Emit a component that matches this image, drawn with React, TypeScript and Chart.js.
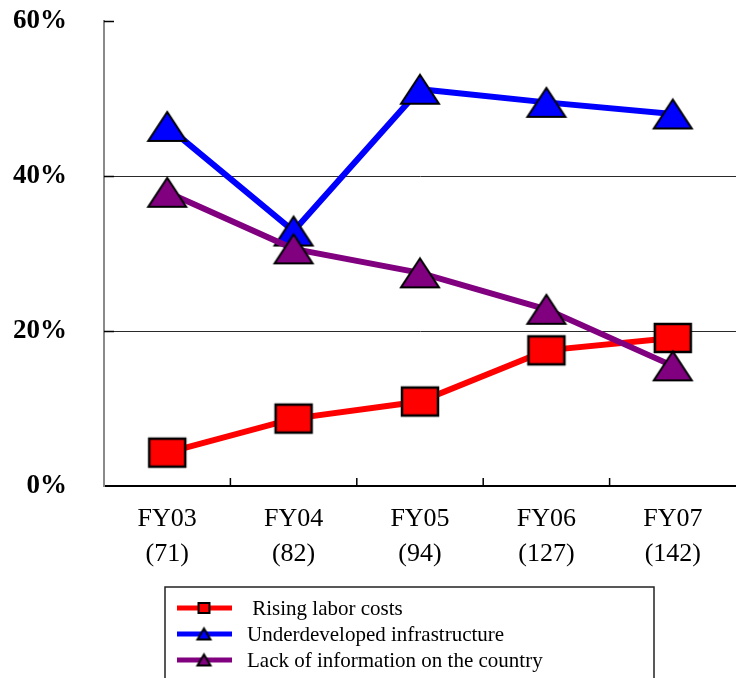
import { useEffect, useRef } from 'react';
import { Chart, registerables } from 'chart.js';

Chart.register(...registerables);

// Survey results by fiscal year (respondent counts in parentheses)
const fiscalYears = ['FY03', 'FY04', 'FY05', 'FY06', 'FY07'];
const respondentCounts = ['(71)', '(82)', '(94)', '(127)', '(142)'];

// Share of respondents citing each problem, in percent
const risingLaborCosts = [4.3, 8.7, 10.9, 17.5, 19.1];
const underdevelopedInfrastructure = [46.4, 32.9, 51.2, 49.5, 48.0];
const lackOfInformation = [37.9, 30.6, 27.5, 22.8, 15.5];

const seriesLabels = [' Rising labor costs', 'Underdeveloped infrastructure', 'Lack of information on the country'];
const yMin = 0;
const yMax = 60;
const yStep = 20;

const SERIF = '"Liberation Serif", "Times New Roman", Times, serif';

type Shape = 'rect' | 'triangle';

function makeMarker(shape: Shape, fill: string, w: number, h: number, lw: number): HTMLCanvasElement {
  const m = 3;
  const c = document.createElement('canvas');
  c.width = w + m * 2;
  c.height = h + m * 2;
  const g = c.getContext('2d')!;
  g.fillStyle = fill;
  g.strokeStyle = '#000';
  g.lineWidth = lw;
  g.lineJoin = 'miter';
  g.beginPath();
  if (shape === 'rect') {
    g.rect(m, m, w, h);
  } else {
    g.moveTo(m + w / 2, m);
    g.lineTo(m + w, m + h);
    g.lineTo(m, m + h);
    g.closePath();
  }
  g.fill();
  g.stroke();
  return c;
}

// Short inward tick marks on both axes
const innerTicks = {
  id: 'innerTicks',
  beforeDatasetsDraw(chart: any) {
    const { ctx, chartArea, scales } = chart;
    const x = scales.x;
    const y = scales.y;
    ctx.save();
    ctx.strokeStyle = '#000';
    ctx.lineWidth = 1.5;
    ctx.beginPath();
    for (let v = yMin + yStep; v <= yMax; v += yStep) {
      const py = Math.round(y.getPixelForValue(v)) + 0.5;
      ctx.moveTo(chartArea.left, py);
      ctx.lineTo(chartArea.left + 10, py);
    }
    for (let i = 0; i < fiscalYears.length - 1; i++) {
      const px = (x.getPixelForValue(i) + x.getPixelForValue(i + 1)) / 2;
      ctx.moveTo(px, chartArea.bottom);
      ctx.lineTo(px, chartArea.bottom - 8);
    }
    ctx.stroke();
    ctx.restore();
  },
};

// Boxed legend below the axis labels: line sample with marker, then the text
const boxedLegend = {
  id: 'boxedLegend',
  afterDraw(chart: any) {
    const { ctx } = chart;
    const left = 165;
    const top = 587;
    const right = 654;
    ctx.save();
    ctx.strokeStyle = '#222';
    ctx.lineWidth = 1.5;
    ctx.strokeRect(left, top, right - left, 200);
    const rowY = [608, 634, 660];
    chart.data.datasets.forEach((ds: any, i: number) => {
      const yy = rowY[i];
      ctx.strokeStyle = ds.borderColor;
      ctx.lineWidth = 5;
      ctx.beginPath();
      ctx.moveTo(177, yy);
      ctx.lineTo(232, yy);
      ctx.stroke();
      const mk = ds.legendMarker as HTMLCanvasElement;
      ctx.drawImage(mk, 204 - mk.width / 2, yy - mk.height / 2);
      ctx.fillStyle = '#000';
      ctx.font = `21px ${SERIF}`;
      ctx.textBaseline = 'middle';
      ctx.textAlign = 'left';
      ctx.fillText(ds.label, 247, yy + 1);
    });
    ctx.restore();
  },
};

export default function App() {
  const canvasRef = useRef<HTMLCanvasElement | null>(null);

  useEffect(() => {
    const canvas = canvasRef.current;
    if (!canvas) return;

    const redRect = makeMarker('rect', '#FF0000', 36, 28, 2.5);
    const blueTri = makeMarker('triangle', '#0000FF', 38, 29, 2);
    const purpleTri = makeMarker('triangle', '#800080', 38, 29, 2);

    const chart = new Chart(canvas, {
      type: 'line',
      data: {
        labels: fiscalYears.map((fy, i) => [fy, respondentCounts[i]]),
        datasets: [
          {
            label: seriesLabels[0],
            data: risingLaborCosts,
            borderColor: '#FF0000',
            backgroundColor: '#FF0000',
            borderWidth: 6,
            pointBorderWidth: 0,
            pointStyle: redRect,
            pointRadius: 8,
            order: 2,
            legendMarker: makeMarker('rect', '#FF0000', 11, 10, 2),
          } as any,
          {
            label: seriesLabels[1],
            data: underdevelopedInfrastructure,
            borderColor: '#0000FF',
            backgroundColor: '#0000FF',
            borderWidth: 6,
            pointBorderWidth: 0,
            pointStyle: blueTri,
            pointRadius: 8,
            order: 1,
            legendMarker: makeMarker('triangle', '#0000FF', 13, 11, 2),
          } as any,
          {
            label: seriesLabels[2],
            data: lackOfInformation,
            borderColor: '#800080',
            backgroundColor: '#800080',
            borderWidth: 6,
            pointBorderWidth: 0,
            pointStyle: purpleTri,
            pointRadius: 8,
            order: 0,
            legendMarker: makeMarker('triangle', '#800080', 13, 11, 2),
          } as any,
        ],
      },
      options: {
        responsive: false,
        animation: false,
        devicePixelRatio: 1,
        layout: { autoPadding: false, padding: { top: 21, left: 0, right: 0, bottom: 0 } },
        elements: { line: { tension: 0 } },
        plugins: {
          legend: { display: false },
          tooltip: { enabled: false },
        },
        scales: {
          x: {
            type: 'category',
            offset: true,
            grid: { display: false, drawTicks: false },
            border: { display: true, color: '#000', width: 2 },
            ticks: {
              padding: 15,
              color: '#000',
              maxRotation: 0,
              autoSkip: false,
              font: { family: SERIF, size: 26, lineHeight: 1.37 },
            },
            afterFit: (s: any) => {
              s.height = 192;
              s.paddingLeft = 0;
              s.paddingRight = 0;
            },
          },
          y: {
            min: yMin,
            max: yMax,
            ticks: {
              stepSize: yStep,
              padding: 37,
              color: '#000',
              font: { family: SERIF, size: 27, weight: 'bold' },
              callback: (v: any) => `${v}%`,
            },
            grid: {
              drawTicks: false,
              lineWidth: 1,
              color: (c: any) =>
                c.tick && (c.tick.value === yMin || c.tick.value === yMax) ? 'rgba(0,0,0,0)' : '#2a2a2a',
            },
            border: { display: true, color: '#8a8a8a', width: 2 },
            afterFit: (s: any) => {
              s.width = 104;
              s.paddingTop = 16;
              s.paddingBottom = 16;
            },
          },
        },
      } as any,
      plugins: [innerTicks, boxedLegend],
    });

    return () => {
      chart.destroy();
    };
  }, []);

  return (
    <div style={{ position: 'absolute', left: 0, top: 0, width: 736, height: 678, background: '#fff' }}>
      <canvas ref={canvasRef} width={736} height={678} style={{ display: 'block' }} />
    </div>
  );
}
